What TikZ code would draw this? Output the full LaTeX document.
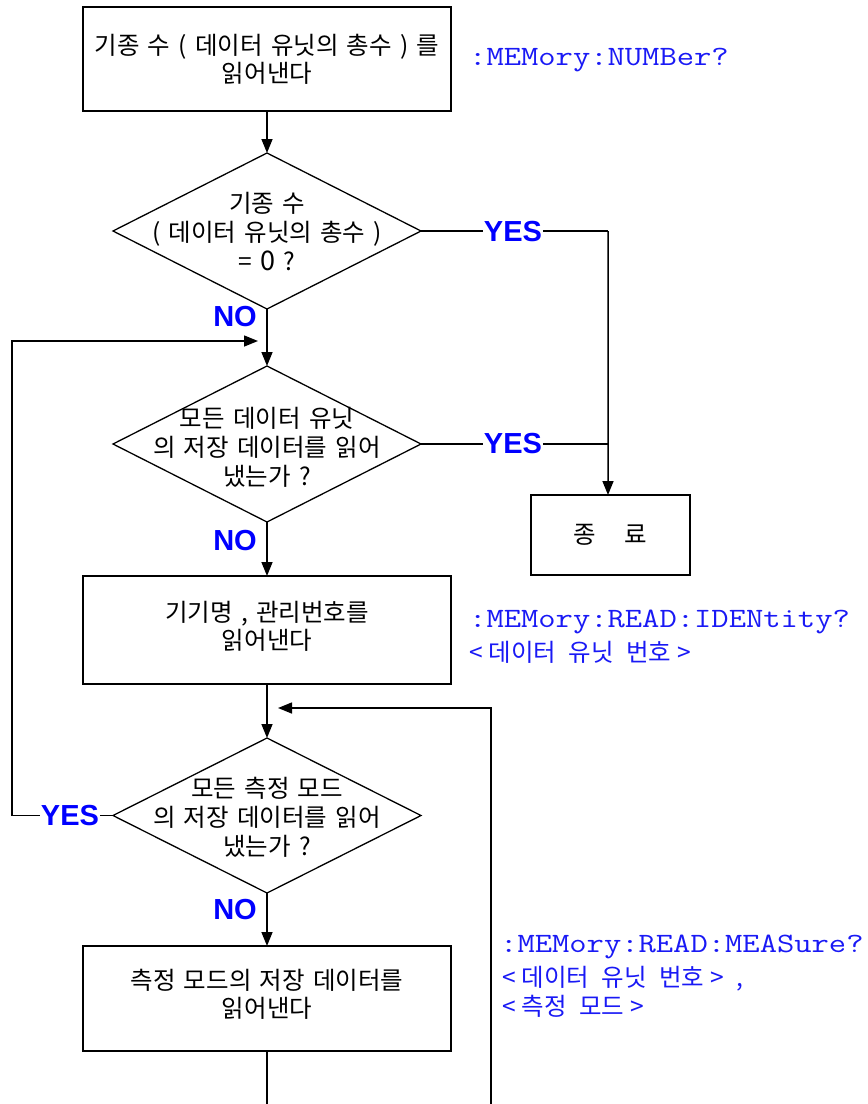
\documentclass[tikz,border=0pt]{standalone}
\usepackage{fontspec}
\setmainfont{Liberation Sans}
\newfontfamily\kr[WordSpace=2.15]{Noto Sans CJK KR}
\newfontfamily\krb[WordSpace=1.5]{Noto Sans CJK KR}
\usetikzlibrary{shapes.geometric,arrows.meta}
\definecolor{codeblue}{RGB}{25,25,245}
\newcommand{\cmdtext}[1]{\scalebox{1.2}[1]{\ttfamily\fontsize{28bp}{32bp}\selectfont #1}}
\begin{document}
\begin{tikzpicture}[x=1bp,y=-1bp,
  box/.style={draw, line width=2bp, minimum width=368bp, minimum height=104bp,
    inner sep=0pt, outer sep=0pt, align=center,
    font=\kr\fontsize{24.5bp}{28bp}\selectfont},
  dia/.style={draw, diamond, line width=1.3bp, minimum width=308bp,
    minimum height=156bp, inner sep=0pt, outer sep=0pt},
  txt/.style={align=center, inner sep=0pt, font=\kr\fontsize{24.5bp}{28bp}\selectfont},
  dtxt/.style={txt, font=\kr\fontsize{24.5bp}{29bp}\selectfont},
  yn/.style={font=\bfseries\fontsize{29bp}{29bp}\selectfont, text=blue, inner sep=1bp},
  ynw/.style={yn, fill=white},
  code/.style={text=codeblue, anchor=base west, inner sep=0pt},
  kcode/.style={font=\krb\fontsize{24.5bp}{28bp}\selectfont, text=codeblue,
    anchor=base west, inner sep=0pt},
  conn/.style={line width=1.5bp},
  arr/.style={conn, -{Triangle[length=14bp,width=11bp]}}
]
\useasboundingbox (0,0) rectangle (868,1104);

% boxes
\node[box] (b1) at (267,59) {기종 수 ( 데이터 유닛의 총수 ) 를\\읽어낸다};
\node[box, minimum height=108bp] (b2) at (267,630) {};
\node[txt] at (267,626) {기기명 , 관리번호를\\읽어낸다};
\node[box, minimum height=105bp] (b3) at (267,998.5) {};
\node[txt] at (267,994) {측정 모드의 저장 데이터를\\읽어낸다};
\node[box, minimum width=159bp, minimum height=80bp] (end) at (610.5,535) {종\hspace{28bp}료};

% diamonds
\node[dia] (d1) at (267,231) {};
\node[dtxt] at (267,232) {기종 수\\( 데이터 유닛의 총수 )\\= {\fontsize{27bp}{29bp}\selectfont 0} ?};
\node[dia] (d2) at (267,444) {};
\node[dtxt] at (267,447) {모든 데이터 유닛\\의 저장 데이터를 읽어\\냈는가 ?};
\node[dia, minimum height=155bp] (d3) at (267,815.5) {};
\node[dtxt] at (267,817.5) {모든 측정 모드\\의 저장 데이터를 읽어\\냈는가 ?};

% coordinates
\coordinate (c1) at (608,231);
\coordinate (c2) at (608,444);
\coordinate (lc) at (12,815.5);
\coordinate (m1) at (258,341);
\coordinate (m2) at (278,708);
\coordinate (r0) at (491,1104);
\coordinate (bot) at (267,1104);

% connectors
\draw[arr] (b1.south) -- (d1.north);
\draw[arr] (d1.south) -- (d2.north);
\draw[arr] (d2.south) -- (b2.north);
\draw[arr] (b2.south) -- (d3.north);
\draw[arr] (d3.south) -- (b3.north);
\draw[conn] (b3.south) -- (bot);
\draw[conn] (d1.east) -- (c1);
\draw[arr] (c1) -- ([xshift=-2.5bp]end.north);
\draw[conn] (d2.east) -- (c2);
\draw[arr] (d3.west) -- (lc) |- (m1);
\draw[arr] (r0) |- (m2);

% labels
\node[ynw] at (513,232) {YES};
\node[ynw] at (513,444) {YES};
\node[ynw] at (70,816) {YES};
\node[yn] at (235,317) {NO};
\node[yn] at (235,541) {NO};
\node[yn] at (235,910) {NO};

% command texts
\node[code] (t1) at (469,65) {\cmdtext{:MEMory:NUMBer?}};
\node[code] (t2) at (469,627) {\cmdtext{:MEMory:READ:IDENtity?}};
\node[kcode] (t3) at (469,661) {<\hspace{6bp}데이터 유닛 번호\hspace{6bp}>};
\node[code] (t4) at (500,952) {\cmdtext{:MEMory:READ:MEASure?}};
\node[kcode] (t5) at (502,986) {<\hspace{6bp}데이터 유닛 번호\hspace{6bp}> ,};
\node[kcode] (t6) at (502,1015) {<\hspace{6bp}측정 모드\hspace{6bp}>};
\end{tikzpicture}
\end{document}
